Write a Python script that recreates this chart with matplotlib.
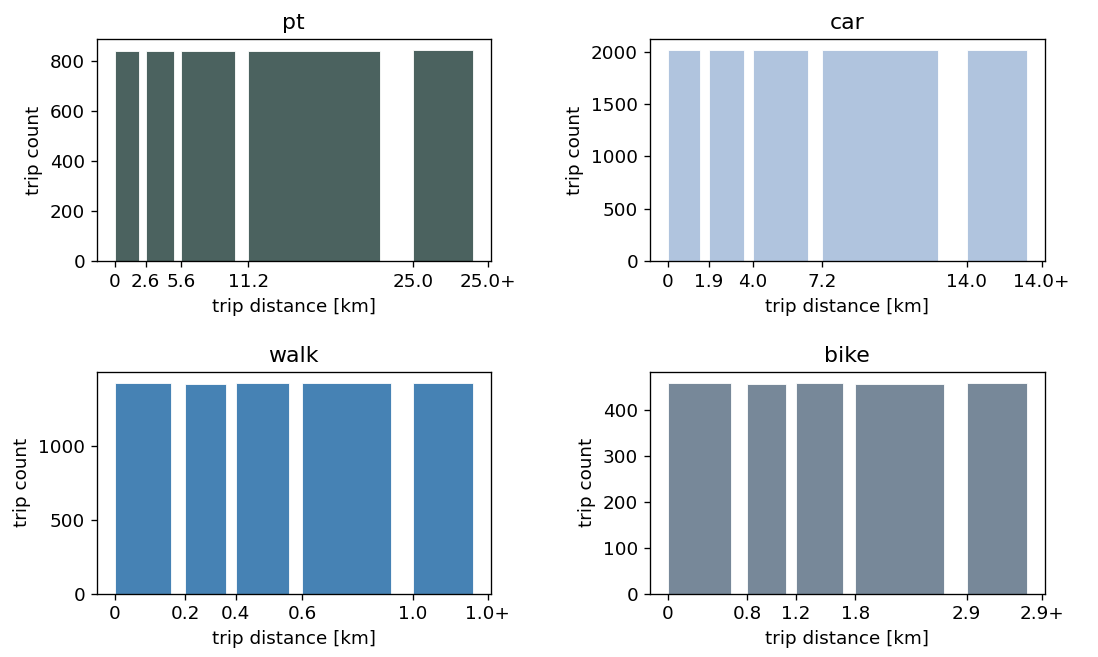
import numpy as np
import matplotlib; matplotlib.use("Agg")
import matplotlib.pyplot as plt
from matplotlib.ticker import MaxNLocator

MODES = ["pt", "car", "walk", "bike"]
COLORS = {"pt": "#4b625f", "car": "lightsteelblue", "walk": "steelblue", "bike": "lightslategray"}

# bin edges (km) per mode, last edge is the max distance; counts per bin (last = overflow "+")
pt_edges = [0, 2.6, 5.6, 11.2, 25.0]
pt_counts = [840, 840, 840, 840, 844]
car_edges = [0, 1.92, 4.0, 7.23, 14.0]
car_counts = [2012, 2016, 2016, 2016, 2016]
walk_edges = [0, 0.236, 0.406, 0.628, 1.0]
walk_counts = [1420, 1416, 1425, 1420, 1425]
bike_edges = [0, 0.77, 1.24, 1.82, 2.9]
bike_counts = [458, 456, 459.5, 456.6, 458.8]

pt_labels = ["0", "2.6", "5.6", "11.2", "25.0", "25.0+"]
car_labels = ["0", "1.9", "4.0", "7.2", "14.0", "14.0+"]
walk_labels = ["0", "0.2", "0.4", "0.6", "1.0", "1.0+"]
bike_labels = ["0", "0.8", "1.2", "1.8", "2.9", "2.9+"]

DATA = {"pt": (pt_edges, pt_counts, pt_labels), "car": (car_edges, car_counts, car_labels),
        "walk": (walk_edges, walk_counts, walk_labels), "bike": (bike_edges, bike_counts, bike_labels)}

plt.rcParams["font.size"] = 11
W, H, DPI = 1098, 657, 120
fig = plt.figure(figsize=(W / DPI, H / DPI), dpi=DPI)
# axes boxes in pixels: left, top, right, bottom
boxes = {"pt": (96.7, 39.3, 490.7, 261.3), "car": (649.7, 39.3, 1044.5, 261.3),
         "walk": (96.7, 372, 490.7, 593.7), "bike": (649.7, 372, 1044.5, 593.7)}

for m in MODES:
    l, t, r, b = boxes[m]
    ax = fig.add_axes([l / W, 1 - b / H, (r - l) / W, (b - t) / H])
    edges, counts, labels = DATA[m]
    e = np.array(edges + [edges[-1] * 1.25])
    widths = np.diff(e)
    ax.bar(e[:-1], counts, width=widths * 0.8, align="edge", color=COLORS[m],
           edgecolor="white", linewidth=0.5)
    ax.set_xticks(e)
    ax.set_xticklabels(labels)
    ax.yaxis.set_major_locator(MaxNLocator(5, steps=[1, 2, 2.5, 5, 10]))
    ax.set_title(m)
    ax.set_xlabel("trip distance [km]")
    ax.set_ylabel("trip count")

fig.savefig("out.png", dpi=DPI)
